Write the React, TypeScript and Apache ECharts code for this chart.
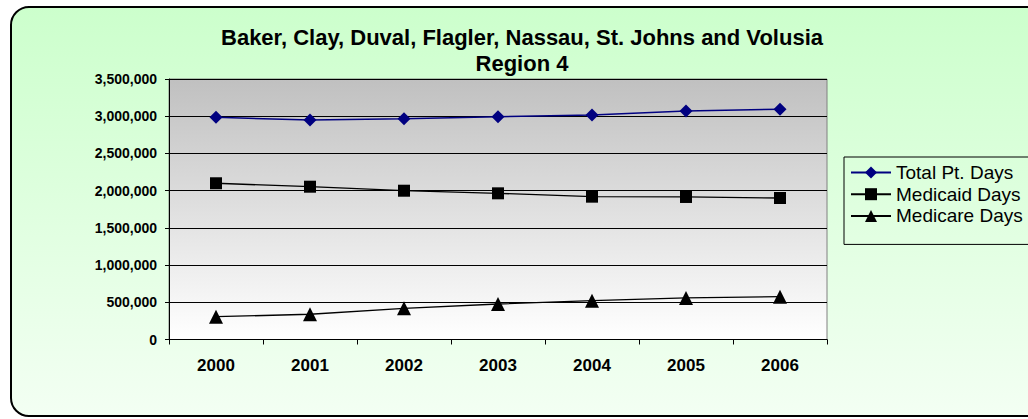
import React, { useEffect, useRef } from "react";
import * as echarts from "echarts";

const years = ["2000", "2001", "2002", "2003", "2004", "2005", "2006"];
const totalPtDays = [2985000, 2949000, 2967000, 2993000, 3016000, 3070000, 3093000];
const medicaidDays = [2099000, 2053000, 1999000, 1964000, 1919000, 1915000, 1901000];
const medicareDays = [306000, 339000, 419000, 477000, 521000, 558000, 575000];
const titleLines = ["Baker, Clay, Duval, Flagler, Nassau, St. Johns and Volusia", "Region 4"];
const seriesNames = ["Total Pt. Days", "Medicaid Days", "Medicare Days"];

export default function App() {
  const ref = useRef<HTMLDivElement>(null);
  useEffect(() => {
    if (!ref.current) return;
    const chart = echarts.init(ref.current, null, { renderer: "svg" });
    const font = "Arial, 'Liberation Sans', sans-serif";
    chart.setOption({
      animation: false,
      backgroundColor: "#ffffff",
      graphic: [
        {
          type: "rect",
          z: -10,
          silent: true,
          shape: { x: 11, y: 7, width: 1040, height: 409, r: 18 },
          style: {
            fill: new echarts.graphic.LinearGradient(0, 0, 0, 1, [
              { offset: 0, color: "#ccffcc" },
              { offset: 1, color: "#f3fff3" },
            ]),
            stroke: "#000000",
            lineWidth: 2,
          },
        },
        {
          type: "text",
          x: 522,
          y: 25,
          z: 10,
          style: {
            text: titleLines.join("\n"),
            textAlign: "center",
            textVerticalAlign: "top",
            font: `bold 22px ${font}`,
            lineHeight: 25.5,
            fill: "#000000",
          },
        },
      ],
      grid: {
        left: 169,
        top: 79,
        width: 658,
        height: 260.5,
        show: true,
        backgroundColor: new echarts.graphic.LinearGradient(0, 0, 0, 1, [
          { offset: 0, color: "#c0c0c0" },
          { offset: 1, color: "#ffffff" },
        ]),
        borderColor: "#808080",
        borderWidth: 1,
      },
      legend: {
        orient: "vertical",
        left: 844,
        top: 157,
        padding: [6, 40, 19, 6],
        itemWidth: 40,
        itemHeight: 15,
        itemGap: 2.7,
        borderColor: "#000000",
        borderWidth: 1,
        backgroundColor: "transparent",
        textStyle: { fontFamily: font, fontSize: 19, color: "#000000", lineHeight: 19 },
        data: seriesNames,
      },
      xAxis: {
        type: "category",
        data: years,
        boundaryGap: true,
        axisLine: { lineStyle: { color: "#000000", width: 1 } },
        axisTick: { show: true, length: 5, lineStyle: { color: "#000000" } },
        axisLabel: { fontFamily: font, fontWeight: "bold", fontSize: 17, color: "#000000", margin: 17 },
        splitLine: { show: false },
      },
      yAxis: {
        type: "value",
        min: 0,
        max: 3500000,
        interval: 500000,
        axisLine: { show: true, lineStyle: { color: "#000000", width: 1 } },
        axisTick: { show: true, length: 4, lineStyle: { color: "#000000" } },
        axisLabel: {
          fontFamily: font,
          fontWeight: "bold",
          fontSize: 14,
          color: "#000000",
          margin: 12,
          formatter: (v: number) => v.toLocaleString("en-US"),
        },
        splitLine: { show: true, lineStyle: { color: "#000000", width: 1 } },
      },
      series: [
        {
          name: seriesNames[0],
          type: "line",
          data: totalPtDays,
          symbol: "diamond",
          symbolSize: 13,
          color: "#000080",
          lineStyle: { color: "#000080", width: 1.5 },
          itemStyle: { color: "#000080" },
        },
        {
          name: seriesNames[1],
          type: "line",
          data: medicaidDays,
          symbol: "rect",
          symbolSize: 12,
          color: "#000000",
          lineStyle: { color: "#000000", width: 1.3 },
          itemStyle: { color: "#000000" },
        },
        {
          name: seriesNames[2],
          type: "line",
          data: medicareDays,
          symbol: "triangle",
          symbolSize: 14,
          color: "#000000",
          lineStyle: { color: "#000000", width: 1.3 },
          itemStyle: { color: "#000000" },
        },
      ],
    });
    return () => chart.dispose();
  }, []);
  return (
    <div
      ref={ref}
      style={{ position: "fixed", left: 0, top: 0, width: 1028, height: 419 }}
    />
  );
}
